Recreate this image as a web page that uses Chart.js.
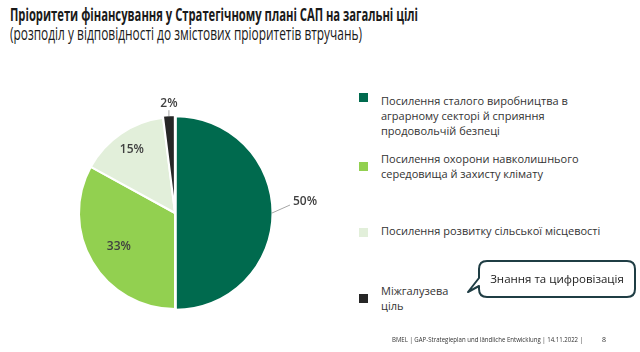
<!DOCTYPE html>
<html>
<head>
<meta charset="utf-8">
<script src="https://cdn.jsdelivr.net/npm/chart.js@4.4.1/dist/chart.umd.min.js"></script>
<style>
  html, body { margin:0; padding:0; background:#fff; }
  body { width:640px; height:352px; position:relative; overflow:hidden; font-family:"Open Sans","Noto Sans",sans-serif; }
  .fit { position:absolute; white-space:nowrap; transform-origin:0 0; }
  #title { left:10px; top:3px; font-size:17px; font-weight:bold; color:#1a1a1a; }
  #subtitle { left:10px; top:21px; font-size:18px; color:#1a1a1a; }
  #chartBox { position:absolute; left:20px; top:80px; width:310px; height:266px; }
  .sq { position:absolute; width:9px; height:9px; }
  .lt { position:absolute; left:381px; font-size:11px; line-height:15px; color:#333; }
  #callout { position:absolute; left:0; top:0; }
  #calloutText { position:absolute; left:479px; top:260px; width:156px; height:38px; line-height:38px; text-align:center; font-size:11.5px; color:#222; }
  #footer { left:392px; top:335px; font-size:7px; color:#333; }
  #page { position:absolute; left:602px; top:335px; font-size:7px; color:#333; }
</style>
</head>
<body>
<div id="title" class="fit" data-w="408">Пріоритети фінансування у Стратегічному плані САП на загальні цілі</div>
<div id="subtitle" class="fit" data-w="352">(розподіл у відповідності до змістових пріоритетів втручань)</div>

<div id="chartBox"><canvas id="c"></canvas></div>

<div id="legend"></div>

<svg id="callout" width="640" height="352">
  <path d="M487,261 L627,261 Q635,261 635,269 L635,289 Q635,297 627,297 L487,297 Q479,297 479,289 L479,286 L468,292 L479,278 L479,269 Q479,261 487,261 Z" fill="#fff" stroke="#1f3d44" stroke-width="2" stroke-linejoin="round"/>
</svg>
<div id="calloutText">Знання та цифровізація</div>

<div id="footer" class="fit" data-w="191">BMEL | GAP-Strategieplan und ländliche Entwicklung | 14.11.2022 |</div>
<div id="page">8</div>

<script>
const categories = [
  "Посилення сталого виробництва в аграрному секторі й сприяння продовольчій безпеці",
  "Посилення охорони навколишнього середовища й захисту клімату",
  "Посилення розвитку сільської місцевості",
  "Міжгалузева ціль"
];
const legendLines = [
  ["Посилення сталого виробництва в", "аграрному секторі й сприяння", "продовольчій безпеці"],
  ["Посилення охорони навколишнього", "середовища й захисту клімату"],
  ["Посилення розвитку сільської місцевості"],
  ["Міжгалузева", "ціль"]
];
const shares = [50, 33, 15, 2];
const sliceLabels = ["50%", "33%", "15%", "2%"];
const colors = ["#006a4e", "#92d050", "#e2efda", "#262626"];

// legend layout (positions only)
const legendSquareTop = [93, 162, 228, 294];
const legendTextTop = [93, 151, 223, 283];
const legend = document.getElementById('legend');
legendLines.forEach((lines, i) => {
  const sq = document.createElement('div');
  sq.className = 'sq';
  sq.style.left = '359px';
  sq.style.top = legendSquareTop[i] + 'px';
  sq.style.background = colors[i];
  legend.appendChild(sq);
  const t = document.createElement('div');
  t.className = 'lt';
  t.style.top = legendTextTop[i] + 'px';
  t.innerHTML = lines.join('<br>');
  legend.appendChild(t);
});

// fit text widths
document.querySelectorAll('.fit').forEach(el => {
  const target = parseFloat(el.dataset.w);
  const w = el.getBoundingClientRect().width;
  if (w > 0) el.style.transform = 'scaleX(' + (target / w) + ')';
});

const labelPlugin = {
  id: 'sliceLabels',
  afterDatasetsDraw(chart, args, opts) {
    const ctx = chart.ctx;
    const meta = chart.getDatasetMeta(0);
    ctx.save();
    ctx.font = '600 12px "Open Sans", "Noto Sans", sans-serif';
    ctx.fillStyle = '#404040';
    ctx.textAlign = 'center';
    ctx.textBaseline = 'middle';
    meta.data.forEach((arc, i) => {
      const p = arc.getProps(['x', 'y', 'startAngle', 'endAngle', 'outerRadius']);
      const mid = (p.startAngle + p.endAngle) / 2;
      const cfg = opts.place[i];
      if (cfg.inside) {
        const r = p.outerRadius * cfg.r;
        ctx.fillText(sliceLabels[i], p.x + Math.cos(mid) * r, p.y + Math.sin(mid) * r);
      } else {
        const sx = p.x + Math.cos(mid) * (p.outerRadius + 1);
        const sy = p.y + Math.sin(mid) * (p.outerRadius + 1);
        const ex = sx + cfg.dx, ey = sy + cfg.dy;
        ctx.strokeStyle = '#a6a6a6';
        ctx.lineWidth = 1;
        ctx.beginPath();
        ctx.moveTo(sx, sy);
        ctx.lineTo(ex, ey);
        ctx.stroke();
        ctx.fillText(sliceLabels[i], ex + cfg.tx, ey + cfg.ty);
      }
    });
    ctx.restore();
  }
};

new Chart(document.getElementById('c'), {
  type: 'pie',
  data: {
    labels: categories,
    datasets: [{
      data: shares,
      backgroundColor: colors,
      borderColor: '#ffffff',
      borderWidth: 2,
      offset: [3, 0, 0, 4]
    }]
  },
  options: {
    responsive: true,
    maintainAspectRatio: false,
    animation: false,
    radius: 96,
    layout: { padding: 0 },
    plugins: {
      legend: { display: false },
      tooltip: { enabled: false },
      sliceLabels: {
        place: [
          { inside: false, dx: 18, dy: -8, tx: 15, ty: -3 },
          { inside: true, r: 0.68 },
          { inside: true, r: 0.8 },
          { inside: false, dx: 0, dy: -6, tx: 0, ty: -7 }
        ]
      }
    }
  },
  plugins: [labelPlugin]
});
</script>
</body>
</html>
